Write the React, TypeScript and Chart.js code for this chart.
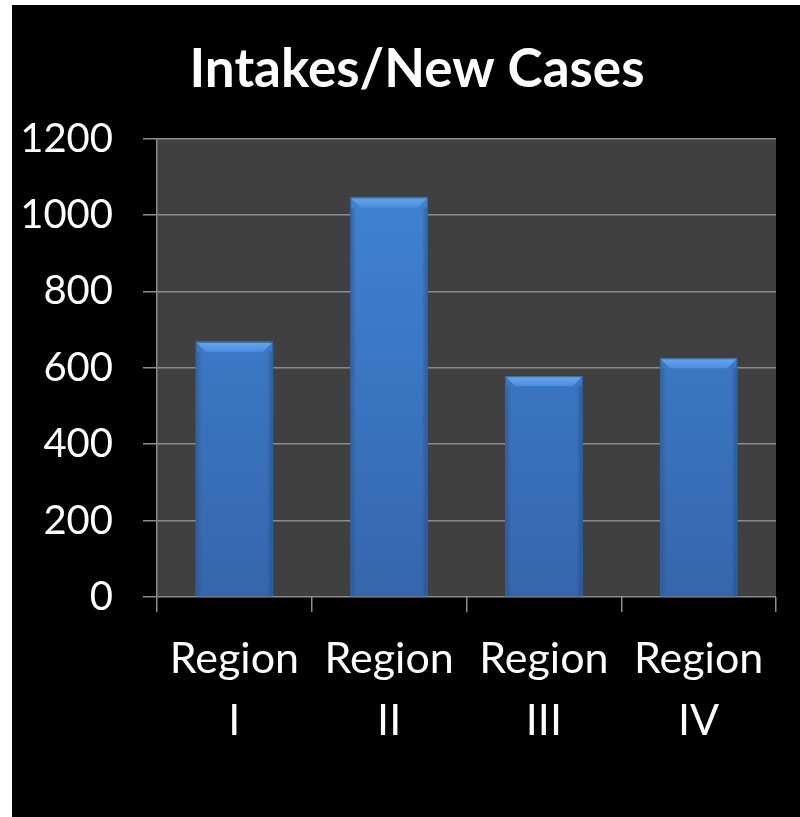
import React, { useEffect, useRef } from "react";
import { Chart, registerables } from "chart.js";

Chart.register(...registerables);

const categories: string[][] = [["Region", "I"], ["Region", "II"], ["Region", "III"], ["Region", "IV"]];
const intakes: number[] = [668, 1046, 578, 625];
const yTicks: number[] = [0, 200, 400, 600, 800, 1000, 1200];
const titleText = "Intakes/New Cases";

const plotBg = {
  id: "plotBg",
  beforeDraw(chart: any) {
    const { ctx, chartArea } = chart;
    if (!chartArea) return;
    ctx.save();
    ctx.fillStyle = "#404040";
    ctx.fillRect(chartArea.left, chartArea.top, chartArea.right - chartArea.left, chartArea.bottom - chartArea.top);
    ctx.restore();
  },
};

const bevel = {
  id: "bevel",
  afterDatasetsDraw(chart: any) {
    const { ctx } = chart;
    const meta = chart.getDatasetMeta(0);
    ctx.save();
    meta.data.forEach((bar: any) => {
      const half = bar.width / 2;
      const l = bar.x - half;
      const r = bar.x + half;
      const t = bar.y;
      const b = bar.base;
      const d = 10;
      ctx.beginPath();
      ctx.moveTo(l, t);
      ctx.lineTo(r, t);
      ctx.lineTo(r - d, t + d);
      ctx.lineTo(l + d, t + d);
      ctx.closePath();
      const g = ctx.createLinearGradient(0, t, 0, t + d);
      g.addColorStop(0, "#6aa6ea");
      g.addColorStop(1, "#4a8ee0");
      ctx.fillStyle = g;
      ctx.fill();
      const sl = ctx.createLinearGradient(l, 0, r, 0);
      sl.addColorStop(0, "rgba(20,50,100,0.3)");
      sl.addColorStop(0.08, "rgba(20,50,100,0)");
      sl.addColorStop(0.92, "rgba(20,50,100,0)");
      sl.addColorStop(1, "rgba(20,50,100,0.4)");
      ctx.fillStyle = sl;
      ctx.fillRect(l, t + d, r - l, b - t - d);
      ctx.strokeStyle = "#33649f";
      ctx.lineWidth = 1;
      ctx.strokeRect(l + 0.5, t + 0.5, r - l - 1, b - t - 1);
    });
    ctx.restore();
  },
};

export default function App() {
  const ref = useRef<HTMLCanvasElement | null>(null);
  useEffect(() => {
    if (!ref.current) return;
    const chart = new Chart(ref.current, {
      type: "bar",
      data: {
        labels: categories,
        datasets: [
          {
            label: titleText,
            data: intakes,
            backgroundColor: (c: any) => {
              const area = c.chart.chartArea;
              if (!area) return "#3d7cc9";
              const g = c.chart.ctx.createLinearGradient(0, area.top, 0, area.bottom);
              g.addColorStop(0, "#4086d6");
              g.addColorStop(1, "#3566ad");
              return g;
            },
            borderWidth: 0,
            barPercentage: 0.5,
            categoryPercentage: 1,
          },
        ],
      },
      options: {
        responsive: false,
        animation: false,
        layout: { padding: 0 },
        plugins: {
          legend: { display: false },
          tooltip: { enabled: false },
          title: {
            display: true,
            text: titleText,
            color: "#ffffff",
            font: { family: "Lato", size: 53, weight: "bold", lineHeight: 1.2 },
            padding: { top: 33, bottom: 37 },
          },
        },
        scales: {
          x: {
            grid: {
              display: true,
              drawOnChartArea: false,
              drawTicks: true,
              tickLength: 15,
              color: "#8c8c8c",
              lineWidth: 1.5,
              offset: true,
            },
            border: { display: false },
            ticks: {
              color: "#ffffff",
              font: { family: "Lato", size: 43, lineHeight: 1.45 },
              padding: 16,
              maxRotation: 0,
            },
            afterFit: (s: any) => {
              s.height = 220;
            },
          },
          y: {
            min: 0,
            max: 1200,
            afterBuildTicks: (s: any) => {
              s.ticks = yTicks.map((v) => ({ value: v }));
            },
            grid: {
              color: "#8c8c8c",
              lineWidth: 1.5,
              tickLength: 14,
              drawTicks: true,
            },
            border: { display: true, color: "#8c8c8c", width: 1.5 },
            ticks: {
              color: "#ffffff",
              font: { family: "Lato", size: 40 },
              padding: 30,
              callback: (v: any) => String(v),
            },
            afterFit: (s: any) => {
              s.width = 145;
            },
          },
          yRight: {
            position: "right",
            min: 0,
            max: 1200,
            grid: { display: false, drawOnChartArea: false, drawTicks: false },
            border: { display: false },
            ticks: { display: false },
            afterFit: (s: any) => {
              s.width = 46;
            },
          },
        },
      },
      plugins: [plotBg, bevel],
    });
    return () => chart.destroy();
  }, []);
  return (
    <div style={{ position: "absolute", left: 12, top: 5, width: 788, height: 812, background: "#000", overflow: "hidden" }}>
      <canvas ref={ref} width={810} height={812} style={{ display: "block" }} />
    </div>
  );
}
